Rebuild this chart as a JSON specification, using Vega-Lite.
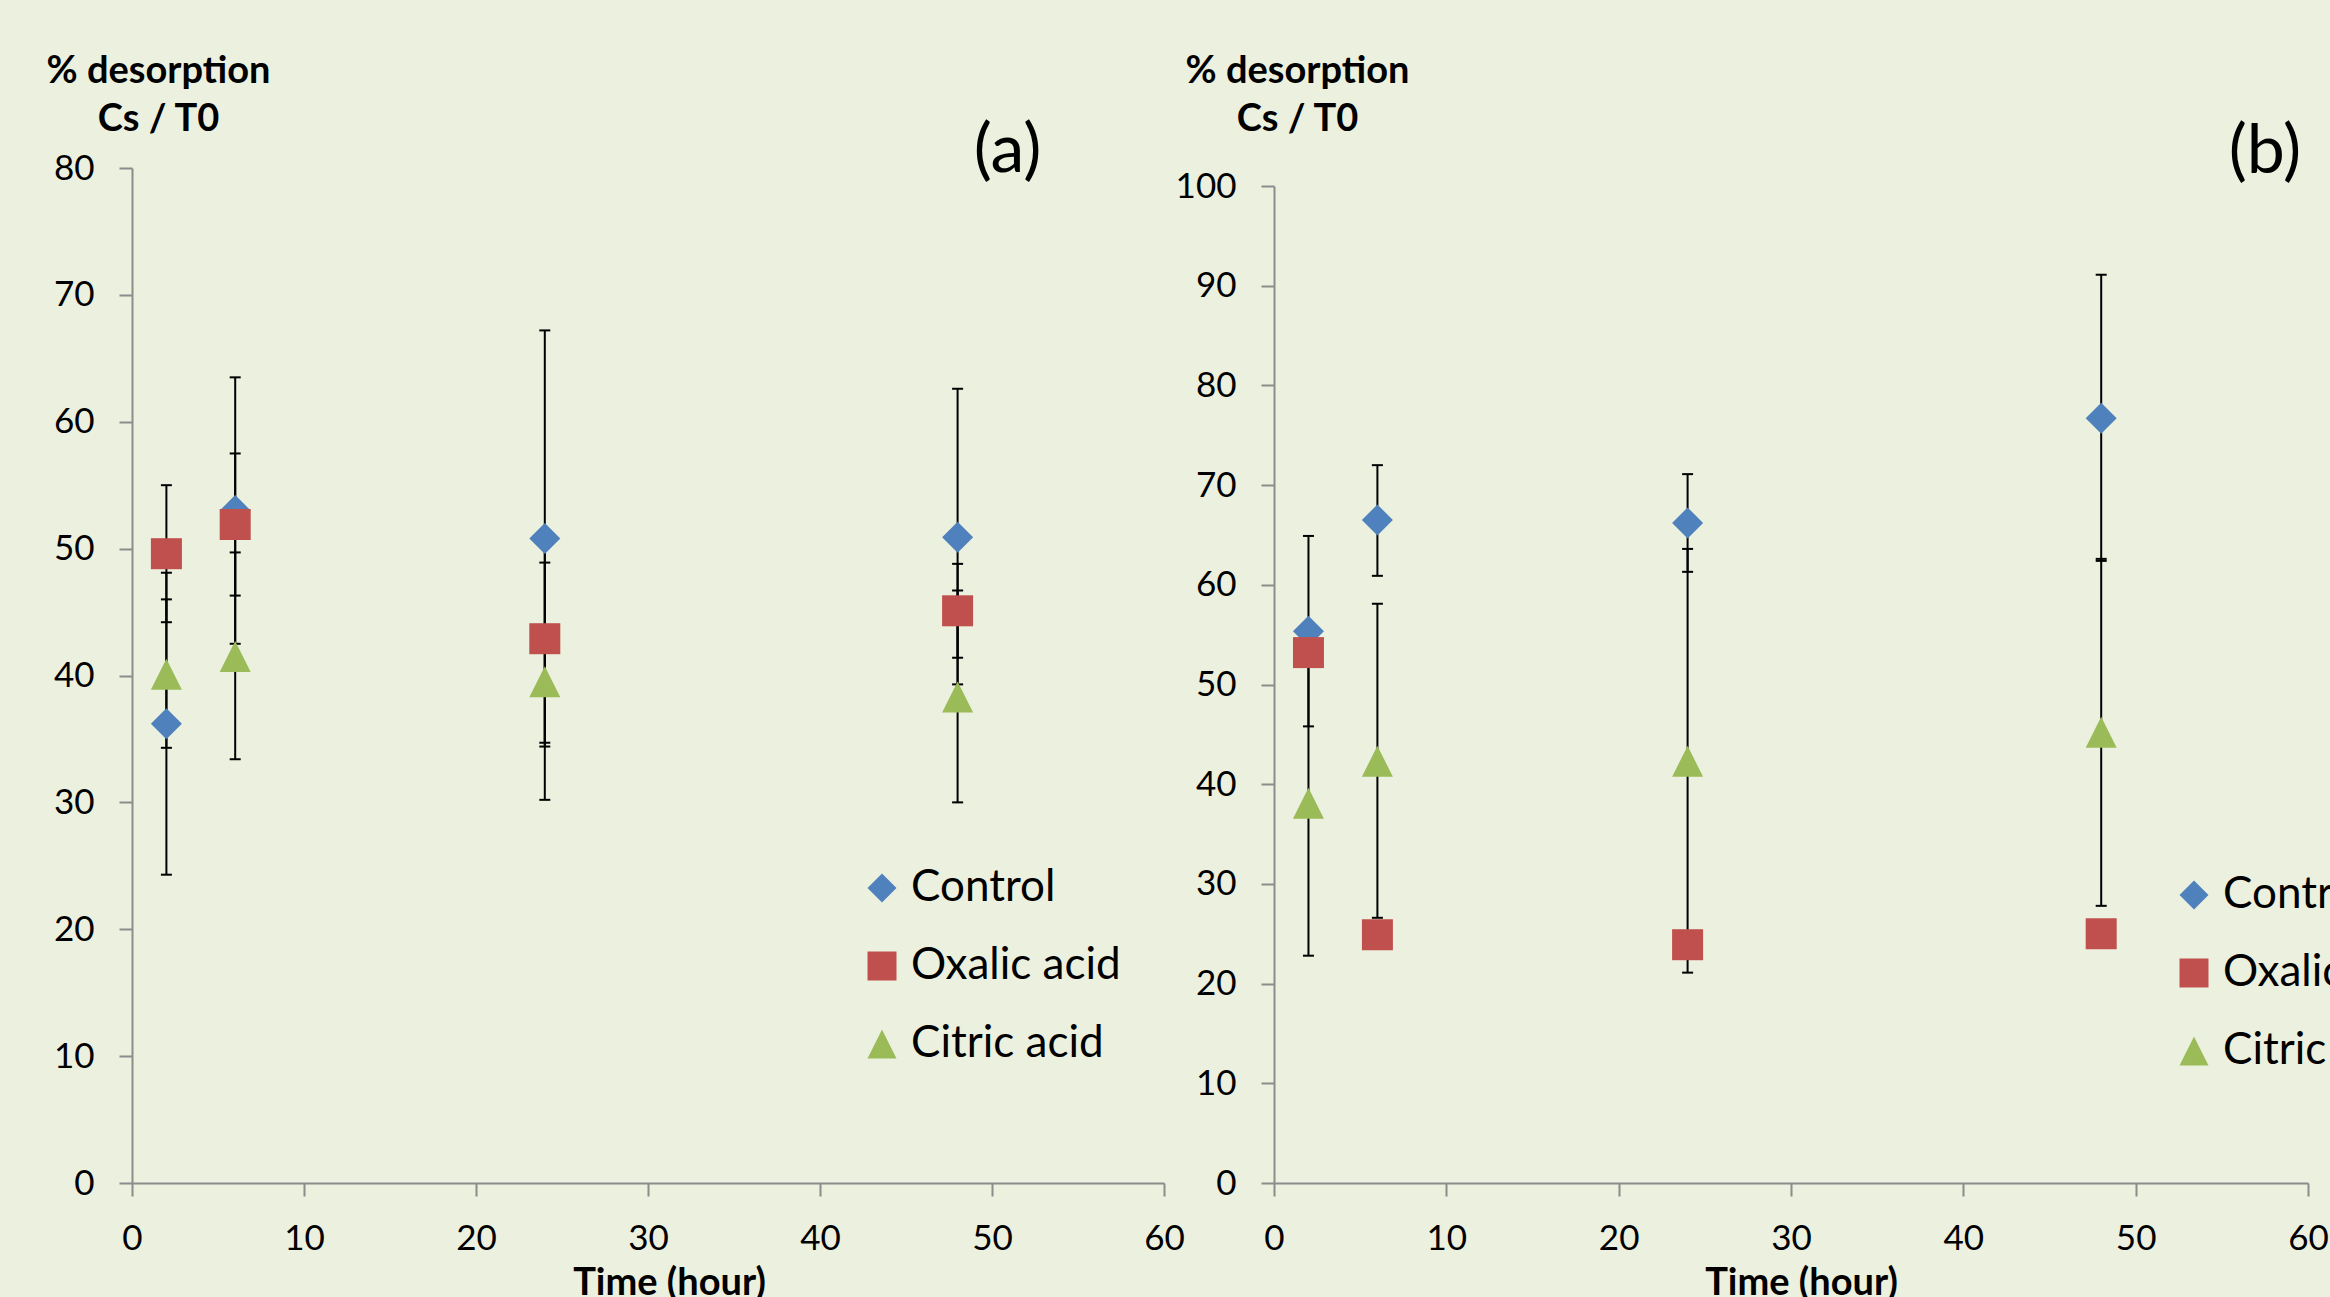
{
  "$schema": "https://vega.github.io/schema/vega-lite/v6.json",
  "background": "#ECF0DF",
  "padding": {"left": 46, "top": 52, "right": 0, "bottom": 0},
  "datasets": {
    "points": [
      {"panel": "a", "series": "Control", "time": 2, "value": 36.2, "lo": 24.3, "hi": 48.1},
      {"panel": "a", "series": "Control", "time": 6, "value": 53.0, "lo": 42.5, "hi": 63.5},
      {"panel": "a", "series": "Control", "time": 24, "value": 50.8, "lo": 34.4, "hi": 67.2},
      {"panel": "a", "series": "Control", "time": 48, "value": 50.9, "lo": 39.3, "hi": 62.6},
      {"panel": "a", "series": "Oxalic acid", "time": 2, "value": 49.6, "lo": 44.2, "hi": 55.0},
      {"panel": "a", "series": "Oxalic acid", "time": 6, "value": 51.9, "lo": 46.3, "hi": 57.5},
      {"panel": "a", "series": "Oxalic acid", "time": 24, "value": 42.9, "lo": 34.7, "hi": 51.1},
      {"panel": "a", "series": "Oxalic acid", "time": 48, "value": 45.1, "lo": 41.4, "hi": 48.8},
      {"panel": "a", "series": "Citric acid", "time": 2, "value": 40.1, "lo": 34.3, "hi": 46.0},
      {"panel": "a", "series": "Citric acid", "time": 6, "value": 41.5, "lo": 33.4, "hi": 49.7},
      {"panel": "a", "series": "Citric acid", "time": 24, "value": 39.5, "lo": 30.2, "hi": 48.9},
      {"panel": "a", "series": "Citric acid", "time": 48, "value": 38.3, "lo": 30.0, "hi": 46.7},
      {"panel": "b", "series": "Control", "time": 2, "value": 55.35, "lo": 45.8, "hi": 64.9},
      {"panel": "b", "series": "Control", "time": 6, "value": 66.5, "lo": 60.9, "hi": 72.0},
      {"panel": "b", "series": "Control", "time": 24, "value": 66.2, "lo": 61.3, "hi": 71.1},
      {"panel": "b", "series": "Control", "time": 48, "value": 76.7, "lo": 62.4, "hi": 91.1},
      {"panel": "b", "series": "Oxalic acid", "time": 2, "value": 53.2, "lo": 52.2, "hi": 54.2},
      {"panel": "b", "series": "Oxalic acid", "time": 6, "value": 24.9, "lo": 24.0, "hi": 25.8},
      {"panel": "b", "series": "Oxalic acid", "time": 24, "value": 23.9, "lo": 23.0, "hi": 24.8},
      {"panel": "b", "series": "Oxalic acid", "time": 48, "value": 25.0, "lo": 24.2, "hi": 25.8},
      {"panel": "b", "series": "Citric acid", "time": 2, "value": 38.1, "lo": 22.8, "hi": 53.4},
      {"panel": "b", "series": "Citric acid", "time": 6, "value": 42.3, "lo": 26.6, "hi": 58.1},
      {"panel": "b", "series": "Citric acid", "time": 24, "value": 42.3, "lo": 21.1, "hi": 63.6},
      {"panel": "b", "series": "Citric acid", "time": 48, "value": 45.2, "lo": 27.8, "hi": 62.6}
    ],
    "labels": [
      {"panel": "a", "label": "(a)", "time": 50.9, "value": 81.25},
      {"panel": "b", "label": "(b)", "time": 57.5, "value": 103.3}
    ]
  },
  "bounds": "flush",
  "spacing": 110,
  "resolve": {
    "scale": {"color": "independent", "shape": "independent"},
    "legend": {"color": "independent", "shape": "independent"}
  },
  "hconcat": [
    {
      "width": 1032,
      "height": 1015,
      "data": {"name": "points"},
      "encoding": {
        "x": {
          "field": "time", "type": "quantitative",
          "scale": {"domain": [0, 60], "nice": false},
          "axis": {"values": [0, 10, 20, 30, 40, 50, 60], "title": "Time (hour)", "titleX": 537, "titleY": 111}
        }
      },
      "layer": [
        {
          "transform": [{"filter": "datum.panel == 'a'"}],
          "mark": {"type": "rule", "color": "black", "strokeWidth": 2},
          "encoding": {
            "y": {"field": "lo", "type": "quantitative", "title": ["% desorption", "Cs / T0"], "scale": {"domain": [0, 80], "nice": false}},
            "y2": {"field": "hi"}
          }
        },
        {
          "transform": [{"filter": "datum.panel == 'a'"}],
          "mark": {"type": "tick", "orient": "horizontal", "size": 11, "thickness": 2, "color": "black", "opacity": 1},
          "encoding": {
            "y": {"field": "lo", "type": "quantitative", "title": ["% desorption", "Cs / T0"], "scale": {"domain": [0, 80], "nice": false}}
          }
        },
        {
          "transform": [{"filter": "datum.panel == 'a'"}],
          "mark": {"type": "tick", "orient": "horizontal", "size": 11, "thickness": 2, "color": "black", "opacity": 1},
          "encoding": {
            "y": {"field": "hi", "type": "quantitative", "title": ["% desorption", "Cs / T0"], "scale": {"domain": [0, 80], "nice": false}}
          }
        },
        {
          "transform": [{"filter": "datum.panel == 'a'"}],
          "mark": {"type": "point", "filled": true, "size": 961, "opacity": 1},
          "encoding": {
            "y": {
              "field": "value", "type": "quantitative", "title": ["% desorption", "Cs / T0"],
              "scale": {"domain": [0, 80], "nice": false},
              "axis": {"values": [0, 10, 20, 30, 40, 50, 60, 70, 80], "titleX": 26, "titleY": -86}
            },
            "color": {
              "field": "series", "type": "nominal",
              "scale": {"domain": ["Control", "Oxalic acid", "Citric acid"], "range": ["#4F81BD", "#C0504D", "#9BBB59"]},
              "legend": {"orient": "none", "legendX": 728, "legendY": 698, "title": null, "labelFont": "Lato", "labelFontSize": 44, "labelColor": "black", "labelLimit": 0, "symbolSize": 841, "labelOffset": 7, "rowPadding": 34, "padding": 0, "symbolStrokeWidth": 0}
            },
            "shape": {
              "field": "series", "type": "nominal",
              "scale": {"domain": ["Control", "Oxalic acid", "Citric acid"], "range": ["diamond", "square", "M0,-1L1,1L-1,1Z"]},
              "legend": {"orient": "none", "legendX": 728, "legendY": 698, "title": null, "labelFont": "Lato", "labelFontSize": 44, "labelColor": "black", "labelLimit": 0, "symbolSize": 841, "labelOffset": 7, "rowPadding": 34, "padding": 0, "symbolStrokeWidth": 0}
            }
          }
        },
        {
          "data": {"name": "labels"},
          "transform": [{"filter": "datum.panel == 'a'"}],
          "mark": {"type": "text", "font": "Lato", "fontSize": 68, "align": "center", "baseline": "middle", "color": "black"},
          "encoding": {
            "y": {"field": "value", "type": "quantitative", "title": ["% desorption", "Cs / T0"], "scale": {"domain": [0, 80], "nice": false}},
            "text": {"field": "label"}
          }
        }
      ]
    },
    {
      "width": 1034,
      "height": 1015,
      "data": {"name": "points"},
      "encoding": {
        "x": {
          "field": "time", "type": "quantitative",
          "scale": {"domain": [0, 60], "nice": false},
          "axis": {"values": [0, 10, 20, 30, 40, 50, 60], "title": "Time (hour)", "titleX": 527, "titleY": 111}
        }
      },
      "layer": [
        {
          "transform": [{"filter": "datum.panel == 'b'"}],
          "mark": {"type": "rule", "color": "black", "strokeWidth": 2},
          "encoding": {
            "y": {"field": "lo", "type": "quantitative", "title": ["% desorption", "Cs / T0"], "scale": {"domain": [0, 100], "range": [1015, 18], "nice": false}},
            "y2": {"field": "hi"}
          }
        },
        {
          "transform": [{"filter": "datum.panel == 'b'"}],
          "mark": {"type": "tick", "orient": "horizontal", "size": 11, "thickness": 2, "color": "black", "opacity": 1},
          "encoding": {
            "y": {"field": "lo", "type": "quantitative", "title": ["% desorption", "Cs / T0"], "scale": {"domain": [0, 100], "range": [1015, 18], "nice": false}}
          }
        },
        {
          "transform": [{"filter": "datum.panel == 'b'"}],
          "mark": {"type": "tick", "orient": "horizontal", "size": 11, "thickness": 2, "color": "black", "opacity": 1},
          "encoding": {
            "y": {"field": "hi", "type": "quantitative", "title": ["% desorption", "Cs / T0"], "scale": {"domain": [0, 100], "range": [1015, 18], "nice": false}}
          }
        },
        {
          "transform": [{"filter": "datum.panel == 'b'"}],
          "mark": {"type": "point", "filled": true, "size": 961, "opacity": 1},
          "encoding": {
            "y": {
              "field": "value", "type": "quantitative", "title": ["% desorption", "Cs / T0"],
              "scale": {"domain": [0, 100], "range": [1015, 18], "nice": false},
              "axis": {"values": [0, 10, 20, 30, 40, 50, 60, 70, 80, 90, 100], "titleX": 23, "titleY": -86}
            },
            "color": {
              "field": "series", "type": "nominal",
              "scale": {"domain": ["Control", "Oxalic acid", "Citric acid"], "range": ["#4F81BD", "#C0504D", "#9BBB59"]},
              "legend": {"orient": "none", "legendX": 898, "legendY": 705, "title": null, "labelFont": "Lato", "labelFontSize": 44, "labelColor": "black", "labelLimit": 0, "symbolSize": 841, "labelOffset": 7, "rowPadding": 34, "padding": 0, "symbolStrokeWidth": 0}
            },
            "shape": {
              "field": "series", "type": "nominal",
              "scale": {"domain": ["Control", "Oxalic acid", "Citric acid"], "range": ["diamond", "square", "M0,-1L1,1L-1,1Z"]},
              "legend": {"orient": "none", "legendX": 898, "legendY": 705, "title": null, "labelFont": "Lato", "labelFontSize": 44, "labelColor": "black", "labelLimit": 0, "symbolSize": 841, "labelOffset": 7, "rowPadding": 34, "padding": 0, "symbolStrokeWidth": 0}
            }
          }
        },
        {
          "data": {"name": "labels"},
          "transform": [{"filter": "datum.panel == 'b'"}],
          "mark": {"type": "text", "font": "Lato", "fontSize": 68, "align": "center", "baseline": "middle", "color": "black"},
          "encoding": {
            "y": {"field": "value", "type": "quantitative", "title": ["% desorption", "Cs / T0"], "scale": {"domain": [0, 100], "range": [1015, 18], "nice": false}},
            "text": {"field": "label"}
          }
        }
      ]
    }
  ],
  "config": {
    "font": "Lato",
    "view": {"stroke": null},
    "axis": {
      "grid": false,
      "labelFont": "Lato",
      "labelFontSize": 35,
      "labelColor": "black",
      "labelPadding": 25,
      "labelFlush": false,
      "labelOverlap": false,
      "tickSize": 13,
      "tickWidth": 2,
      "tickColor": "#8C8C8C",
      "domainColor": "#8C8C8C",
      "domainWidth": 2,
      "titleFont": "Lato",
      "titleFontWeight": "bold",
      "titleFontSize": 38,
      "titleColor": "black",
      "titleAngle": 0,
      "titleAlign": "center",
      "titleBaseline": "alphabetic",
      "titleLineHeight": 48
    }
  }
}
